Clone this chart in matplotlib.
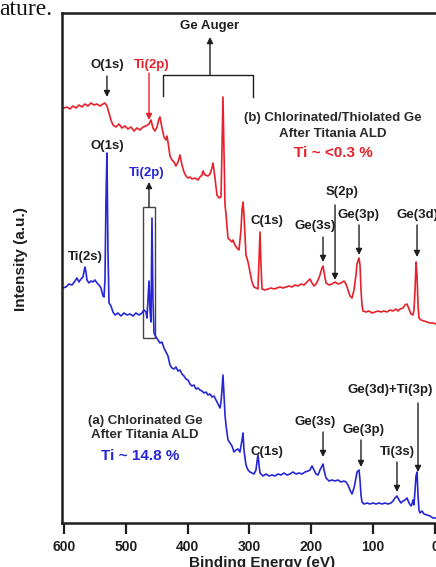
import matplotlib
matplotlib.use("Agg")
import matplotlib.pyplot as plt
from matplotlib.patches import Rectangle

plt.rcParams["font.family"] = ["Liberation Sans", "DejaVu Sans"]
plt.rcParams["font.weight"] = "bold"

# (b) chlorinated/thiolated Ge after titania ALD (red)
be_b = [600.0, 595.2, 590.3, 585.5, 580.6, 575.8, 570.9, 566.1, 561.2, 556.4,
        551.5, 546.6, 541.8, 536.9, 533.7, 530.5, 527.2, 524.0, 520.8, 515.9,
        511.1, 506.2, 501.4, 496.5, 491.7, 486.8, 481.9, 477.1, 472.2, 467.4,
        462.5, 459.3, 456.1, 452.8, 449.6, 446.4, 444.8, 441.5, 438.3, 435.1,
        433.4, 431.8, 428.6, 425.3, 422.1, 418.9, 415.6, 412.4, 409.2, 405.9,
        402.7, 399.5, 396.2, 393.0, 388.2, 383.3, 380.1, 376.8, 375.2, 372.0,
        367.1, 363.9, 360.7, 359.0, 355.8, 352.6, 349.3, 346.1, 344.5, 342.9,
        341.2, 339.6, 338.0, 334.8, 331.5, 328.3, 326.7, 323.5, 320.2, 317.0,
        313.8, 312.1, 310.5, 308.9, 305.7, 302.4, 299.2, 296.0, 292.7, 289.5,
        286.3, 284.6, 283.0, 281.4, 279.8, 274.9, 270.1, 265.2, 260.4, 255.5,
        250.7, 245.8, 241.0, 236.1, 231.3, 226.4, 221.6, 216.7, 211.9, 207.0,
        202.2, 198.9, 195.7, 192.5, 189.2, 186.0, 182.8, 181.1, 179.5, 176.3,
        171.4, 166.6, 161.7, 156.9, 152.0, 147.2, 143.9, 140.7, 137.5, 134.2,
        131.0, 127.8, 126.1, 122.9, 121.3, 119.7, 118.1, 116.4, 111.6, 106.7,
        101.9, 97.0, 92.2, 87.3, 82.5, 77.6, 72.8, 67.9, 63.1, 59.8,
        56.6, 51.8, 48.5, 45.3, 42.0, 38.8, 35.6, 34.0, 32.3, 30.7,
        29.1, 27.5, 25.9, 22.6, 17.8, 12.9, 8.1, 3.2, -1.6]
int_b = [415, 416, 414, 417, 415, 418, 416, 419, 417, 420,
         418, 419, 417, 419, 420, 417, 410, 403, 398, 396,
         399, 395, 397, 394, 396, 392, 395, 393, 396, 397,
         399, 403, 395, 392, 396, 404, 406, 395, 386, 383,
         387, 381, 367, 363, 361, 357, 361, 368, 358, 351,
         347, 345, 346, 344, 345, 343, 346, 348, 352, 348,
         347, 349, 355, 360, 345, 328, 325, 326, 373, 426,
         373, 318, 309, 285, 283, 281, 283, 278, 275, 273,
         293, 313, 321, 308, 268, 261, 251, 241, 236, 235,
         234, 263, 291, 258, 234, 233, 234, 235, 234, 235,
         236, 235, 236, 237, 236, 238, 237, 239, 238, 241,
         244, 240, 237, 239, 243, 248, 255, 257, 251, 240,
         238, 239, 241, 239, 240, 242, 239, 233, 227, 225,
         233, 248, 259, 265, 258, 233, 218, 212, 211, 212,
         210, 211, 212, 211, 212, 211, 213, 212, 214, 212,
         214, 215, 218, 219, 214, 209, 208, 213, 233, 261,
         248, 218, 205, 203, 202, 201, 200, 200, 199]

# (a) chlorinated Ge after titania ALD (blue)
be_a = [601.6, 596.8, 591.9, 587.1, 582.2, 579.0, 575.8, 572.5, 569.3, 566.1,
        564.4, 562.8, 559.6, 556.4, 553.1, 549.9, 546.6, 543.4, 540.2, 536.9,
        535.3, 533.7, 532.1, 530.5, 528.9, 527.2, 524.0, 520.8, 517.5, 512.7,
        507.8, 503.0, 498.1, 493.3, 488.4, 483.6, 478.7, 473.9, 470.6, 467.4,
        465.8, 464.2, 462.5, 460.9, 459.3, 457.7, 456.1, 454.4, 451.2, 448.0,
        444.8, 441.5, 438.3, 435.1, 431.8, 428.6, 425.3, 422.1, 418.9, 415.6,
        412.4, 409.2, 405.9, 402.7, 399.5, 396.2, 393.0, 389.8, 386.5, 383.3,
        380.1, 376.8, 373.6, 370.4, 367.1, 363.9, 360.7, 357.4, 354.2, 350.9,
        347.7, 346.1, 344.5, 342.9, 341.2, 339.6, 338.0, 334.8, 331.5, 328.3,
        325.1, 321.8, 318.6, 315.4, 312.1, 310.5, 308.9, 305.7, 302.4, 299.2,
        296.0, 292.7, 289.5, 287.9, 286.3, 284.6, 283.0, 278.2, 273.3, 268.5,
        263.6, 258.8, 253.9, 249.1, 244.2, 239.4, 234.5, 229.7, 224.8, 220.0,
        215.1, 210.2, 205.4, 202.2, 198.9, 195.7, 192.5, 189.2, 186.0, 182.8,
        181.1, 179.5, 176.3, 171.4, 166.6, 161.7, 156.9, 152.0, 147.2, 143.9,
        140.7, 137.5, 134.2, 131.0, 127.8, 126.1, 122.9, 121.3, 119.7, 118.1,
        114.8, 110.0, 105.1, 100.3, 95.4, 90.6, 85.7, 80.9, 76.0, 71.2,
        67.9, 64.7, 61.5, 58.2, 55.0, 51.8, 48.5, 45.3, 42.0, 38.8,
        37.2, 35.6, 34.0, 32.3, 30.7, 29.1, 27.5, 25.9, 24.3, 21.0,
        17.8, 12.9, 8.1, 3.2, -1.6]
int_a = [235, 236, 239, 238, 242, 245, 241, 244, 246, 256,
         251, 243, 240, 242, 241, 243, 240, 238, 235, 227,
         226, 243, 323, 370, 273, 220, 217, 211, 208, 210,
         207, 210, 208, 209, 207, 210, 208, 210, 213, 211,
         205, 223, 242, 213, 201, 305, 223, 190, 186, 183,
         180, 181, 175, 171, 167, 158, 155, 154, 156, 152,
         153, 149, 147, 144, 143, 139, 137, 138, 134, 135,
         133, 132, 130, 131, 128, 129, 126, 127, 123, 119,
         115, 121, 133, 148, 128, 108, 98, 83, 80, 77,
         71, 73, 74, 71, 83, 90, 73, 58, 53, 51,
         50, 49, 53, 61, 68, 58, 50, 47, 49, 47,
         48, 47, 49, 48, 50, 48, 49, 51, 49, 50,
         49, 51, 52, 53, 57, 53, 49, 48, 53, 57,
         59, 53, 45, 42, 43, 42, 43, 41, 42, 41,
         38, 33, 29, 35, 45, 51, 53, 43, 28, 21,
         19, 20, 19, 20, 19, 20, 19, 20, 19, 20,
         22, 25, 27, 23, 20, 22, 23, 25, 20, 17,
         19, 23, 18, 33, 47, 51, 28, 13, 10, 12,
         9, 8, 7, 5, 5]

x_ticks = [600, 500, 400, 300, 200, 100, 0]

red = "#e8202a"
blue = "#2626d6"
ink = "#1e1e1e"

fig = plt.figure(figsize=(4.36, 5.67), dpi=100)
ax = fig.add_axes([62 / 436, 44 / 567, 380 / 436, 510 / 567])

ax.plot(be_b, int_b, color=red, lw=1.2)
ax.plot(be_a, int_a, color=blue, lw=1.2)

ax.set_xlim(603.2, -11.3)
ax.set_ylim(0, 510)
ax.set_xticks(x_ticks)
ax.set_xticklabels([str(t) for t in x_ticks], fontsize=10, fontweight="bold", color=ink)
ax.set_yticks([])
ax.tick_params(axis="x", direction="out", length=8, width=1.6, color=ink, pad=4)
for s in ["left", "top", "bottom", "right"]:
    ax.spines[s].set_linewidth(1.8)
    ax.spines[s].set_color(ink)

fig.text(262 / 436, 0.0, "Binding Energy (eV)", fontsize=11, fontweight="bold",
         ha="center", va="baseline", color=ink)
fig.text(21.5 / 436, 1 - 259 / 567, "Intensity (a.u.)", fontsize=11, fontweight="bold",
         rotation=90, ha="center", va="center", color=ink)
fig.text(-0.003, 1 - 15 / 567, "ature.", fontsize=17, fontweight="normal",
         family=["Liberation Serif", "DejaVu Serif"], ha="left", va="baseline", color="#111")

lab = dict(fontsize=9.5, fontweight="bold", ha="center", va="center")


def arrow(x, y0, y1, color=ink):
    ax.annotate("", xy=(x, y1), xytext=(x, y0),
                arrowprops=dict(arrowstyle="-|>", lw=1.0, color=color,
                                mutation_scale=9, shrinkA=0, shrinkB=0))


# red spectrum labels
ax.text(530.5, 458, "O(1s)", color=ink, **lab)
arrow(530.5, 447, 426)
ax.text(457.7, 458, "Ti(2p)", color=red, **lab)
arrow(462.5, 450, 403, color=red)
ax.plot([439.9, 439.9, 294.3, 294.3], [427, 448, 448, 426], color=ink, lw=1.0)
arrow(363.9, 448, 486)
ax.text(363.9, 497, "Ge Auger", color=ink, **lab)
ax.text(165.0, 405, "(b) Chlorinated/Thiolated Ge", color="#2a2a2a", **lab)
ax.text(165.0, 389, "After Titania ALD", color="#2a2a2a", **lab)
ax.text(165.0, 370, "Ti ~ <0.3 %", color=red, fontsize=11, fontweight="bold",
        ha="center", va="center")
ax.text(271.7, 302, "C(1s)", color=ink, **lab)
ax.text(194.1, 297, "Ge(3s)", color=ink, **lab)
arrow(181.1, 286, 261)
ax.text(150.4, 331, "S(2p)", color=ink, **lab)
arrow(161.7, 318, 243)
ax.text(124.5, 308, "Ge(3p)", color=ink, **lab)
arrow(122.9, 298, 268)
ax.text(29.1, 308, "Ge(3d)", color=ink, **lab)
arrow(29.1, 298, 266)

# blue spectrum labels
ax.text(530.5, 377, "O(1s)", color=ink, **lab)
ax.text(465.8, 350, "Ti(2p)", color=blue, **lab)
arrow(462.5, 316, 341)
ax.add_patch(Rectangle((472.2, 185), 452.8 - 472.2, 316 - 185, fill=False,
                       edgecolor="#444444", lw=1.0))
ax.text(566.1, 266, "Ti(2s)", color=ink, **lab)
ax.text(271.7, 71, "C(1s)", color=ink, **lab)
ax.text(194.1, 101, "Ge(3s)", color=ink, **lab)
arrow(181.1, 91, 66)
ax.text(116.4, 93, "Ge(3p)", color=ink, **lab)
arrow(119.7, 83, 56)
ax.text(61.5, 71, "Ti(3s)", color=ink, **lab)
arrow(61.5, 61, 31)
ax.text(72.8, 133, "Ge(3d)+Ti(3p)", color=ink, **lab)
arrow(27.5, 120, 51)
ax.text(469.0, 102, "(a) Chlorinated Ge", color="#2a2a2a", **lab)
ax.text(469.0, 88, "After Titania ALD", color="#2a2a2a", **lab)
ax.text(477.1, 67, "Ti ~ 14.8 %", color=blue, fontsize=11, fontweight="bold",
        ha="center", va="center")

fig.savefig("out.png", dpi=100)
